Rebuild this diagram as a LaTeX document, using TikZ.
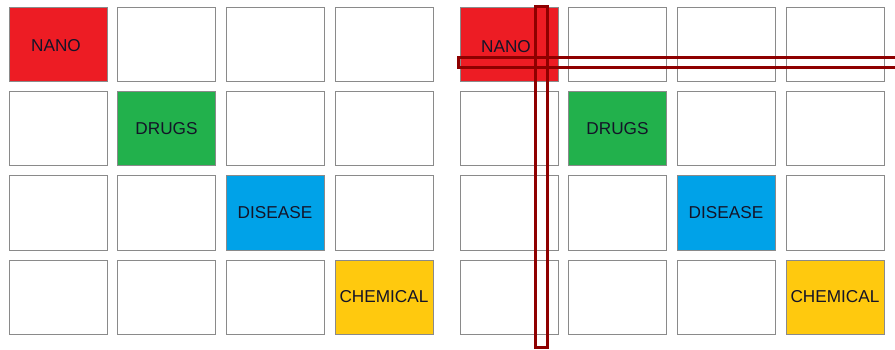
\documentclass[tikz,border=0pt]{standalone}
\usepackage{fontspec}
\setmainfont{Liberation Sans}
\definecolor{cred}{HTML}{ED1C24}
\definecolor{cgreen}{HTML}{22B14C}
\definecolor{cblue}{HTML}{00A2E8}
\definecolor{cyellow}{HTML}{FFC90E}
\definecolor{cborder}{HTML}{8A8A8A}
\definecolor{cbar}{HTML}{8E0000}
\definecolor{ctext}{HTML}{141428}
\tikzset{
  cell/.style={draw=cborder, line width=1pt, fill=white, minimum width=98pt, minimum height=74pt,
    inner sep=0pt, anchor=north west, font=\fontsize{17.2}{19}\selectfont, text=ctext},
  bar/.style={draw=cbar, line width=3.3pt}
}
\begin{document}
\begin{tikzpicture}[x=1pt,y=-1pt]
\useasboundingbox (0,0) rectangle (895,350);
\fill[white] (0,0) rectangle (895,350);
% left grid
\foreach \r/\y in {1/7.5,2/91.5,3/175.5,4/259.5}{
  \foreach \c/\x in {1/8.5,2/117,3/225.5,4/334.5}{
    \node[cell] (L-\r-\c) at (\x,\y) {};
  }
}
\foreach \r/\y in {1/7.5,2/91.5,3/175.5,4/259.5}{
  \foreach \c/\x in {1/459.5,2/568,3/676.5,4/785.5}{
    \node[cell] (R-\r-\c) at (\x,\y) {};
  }
}
% coloured cells
\node[cell, fill=cred] (LN) at (8.5,7.5) {};
\node[font=\fontsize{17.2}{19}\selectfont, text=ctext] (LNt) at (56,46) {NANO};
\node[cell, fill=cgreen] (LD) at (117,91.5) {DRUGS};
\node[cell, fill=cblue] (LS) at (225.5,175.5) {DISEASE};
\node[cell, fill=cyellow] (LC) at (334.5,259.5) {CHEMICAL};
\node[cell, fill=cred] (RN) at (459.5,7.5) {};
\node[font=\fontsize{17.2}{19}\selectfont, text=ctext] (RNt) at (506,47) {NANO};
\node[cell, fill=cgreen] (RD) at (568,91.5) {DRUGS};
\node[cell, fill=cblue] (RS) at (676.5,175.5) {DISEASE};
\node[cell, fill=cyellow] (RC) at (785.5,259.5) {CHEMICAL};
% bars
\coordinate (hb1) at (458.7,57.7);
\coordinate (hb2) at (900,67.3);
\coordinate (vb1) at (535.7,6.7);
\coordinate (vb2) at (547.3,347.3);
\draw[bar] (hb1) rectangle (hb2);
\draw[bar] (vb1) rectangle (vb2);
\end{tikzpicture}
\end{document}
